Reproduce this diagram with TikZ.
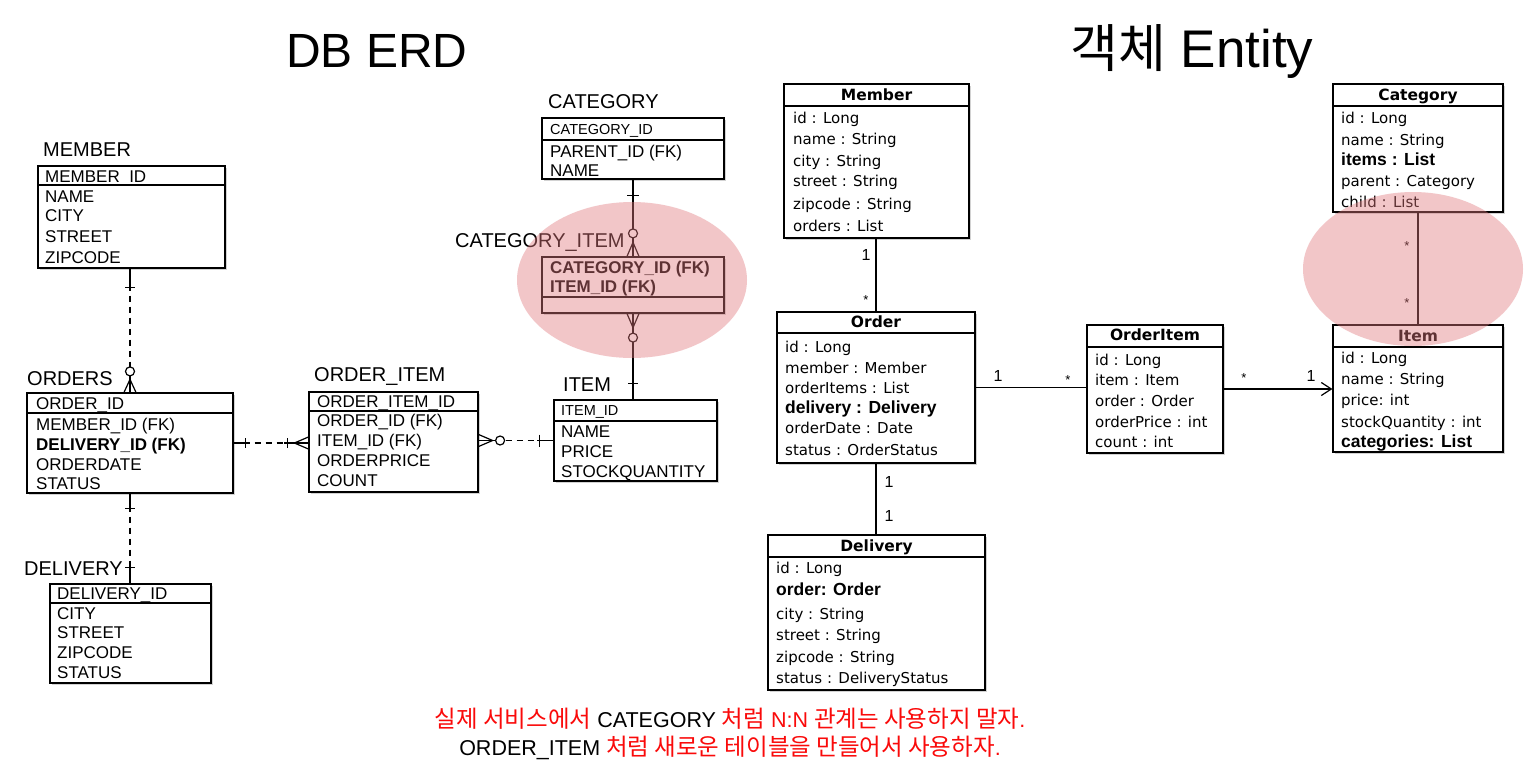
\documentclass[tikz,border=0pt]{standalone}
\usepackage{fontspec}
\setmainfont{Liberation Sans}
\newfontfamily\krfont{Noto Sans CJK KR}
\newfontfamily\dvfont{DejaVu Sans}
\usetikzlibrary{fit,shadows,arrows.meta}

\definecolor{pinkov}{RGB}{226,120,125}
\definecolor{ered}{RGB}{250,10,10}

\newcommand\krnote{\krfont\fontsize{23.5}{26}\selectfont}
\newcommand\krtitle{\krfont\fontsize{52}{58}\selectfont}

\tikzset{
  tbl/.style={draw=black, fill=white, line width=1.2pt, inner sep=0pt,
    drop shadow={shadow xshift=1.5pt, shadow yshift=-2pt, opacity=0.35}},
  sep/.style={line width=1.1pt},
  row/.style={anchor=base west, inner sep=0pt, font=\fontsize{17}{20}\selectfont},
  keyrow/.style={row, font=\fontsize{14.5}{17}\selectfont},
  brow/.style={row, font=\bfseries\fontsize{17}{20}\selectfont},
  tlabel/.style={anchor=base west, inner sep=0pt, font=\fontsize{20}{24}\selectfont},
  erow/.style={anchor=base west, inner sep=0pt, font=\dvfont\fontsize{15}{18}\selectfont},
  ebrow/.style={anchor=base west, inner sep=0pt, font=\bfseries\fontsize{17.5}{20}\selectfont},
  ehead/.style={anchor=base, inner sep=0pt, font=\dvfont\bfseries\fontsize{15.5}{18}\selectfont},
  conn/.style={line width=1.2pt},
  erdash/.style={conn, dash pattern=on 6pt off 5pt},
  ring/.style={conn, fill=white},
  mult/.style={inner sep=0pt, font=\fontsize{16}{18}\selectfont},
  star/.style={inner sep=0pt, font=\fontsize{13}{15}\selectfont},
  blob/.style={fill=pinkov, fill opacity=0.42, draw=none},
  ttl/.style={anchor=base, inner sep=0pt, font=\fontsize{48}{54}\selectfont},
  ttlb/.style={anchor=base, inner sep=0pt, font=\fontsize{53}{58}\selectfont},
  note/.style={anchor=base, inner sep=0pt, font=\fontsize{21.5}{25}\selectfont, text=ered},
}

\begin{document}
\begin{tikzpicture}[x=1pt, y=-1pt]
\path[fill=white, use as bounding box] (0,0) rectangle (1540,774);

% titles
\node[ttl] (t1) at (377,67) {DB ERD};
\node[ttlb] (t2) at (1192,67) {{\krtitle 객체} Entity};

% ===== DB ERD =====
% MEMBER
\node[tlabel] (lmember) at (43,156) {MEMBER};
\node[tbl, fit={(38,166) (225,268)}] (member) {};
\draw[sep] (38,185) -- (225,185);
\node[row] (m1) at (45,182) {MEMBER\_ID};
\node[row] (m2) at (45,202) {NAME};
\node[row] (m3) at (45,221) {CITY};
\node[row] (m4) at (45,242) {STREET};
\node[row] (m5) at (45,263) {ZIPCODE};

% ORDERS
\node[tlabel] (lorders) at (27,385) {ORDERS};
\node[tbl, fit={(27,393) (233,493)}] (orders) {};
\draw[sep] (27,413) -- (233,413);
\node[row] (o1) at (36,409) {ORDER\_ID};
\node[row] (o2) at (36,430) {MEMBER\_ID (FK)};
\node[brow] (o3) at (36,450) {DELIVERY\_ID (FK)};
\node[row] (o4) at (36,470) {ORDERDATE};
\node[row] (o5) at (36,489) {STATUS};

% DELIVERY
\node[tlabel] (ldelivery) at (24,575) {DELIVERY};
\node[tbl, fit={(50,584) (211,683)}] (delivery) {};
\draw[sep] (50,603) -- (211,603);
\node[row] (d1) at (57,599) {DELIVERY\_ID};
\node[row] (d2) at (57,619) {CITY};
\node[row] (d3) at (57,638) {STREET};
\node[row] (d4) at (57,658) {ZIPCODE};
\node[row] (d5) at (57,678) {STATUS};

% ORDER_ITEM
\node[tlabel] (lorderitem) at (314,381) {ORDER\_ITEM};
\node[tbl, fit={(309,392) (478,492)}] (orderitem) {};
\draw[sep] (309,411) -- (478,411);
\node[row] (oi1) at (317,407) {ORDER\_ITEM\_ID};
\node[row] (oi2) at (317,426) {ORDER\_ID (FK)};
\node[row] (oi3) at (317,446) {ITEM\_ID (FK)};
\node[row] (oi4) at (317,466) {ORDERPRICE};
\node[row] (oi5) at (317,486) {COUNT};

% ITEM
\node[tlabel] (litem) at (563,391) {ITEM};
\node[tbl, fit={(554,400) (717,481)}] (item) {};
\draw[sep] (554,421) -- (717,421);
\node[keyrow] (i1) at (561,415) {ITEM\_ID};
\node[row] (i2) at (561,437) {NAME};
\node[row] (i3) at (561,457) {PRICE};
\node[row] (i4) at (561,477) {STOCKQUANTITY};

% CATEGORY
\node[tlabel] (lcategory) at (548,108) {CATEGORY};
\node[tbl, fit={(542,118) (724,179)}] (category) {};
\draw[sep] (542,140) -- (724,140);
\node[keyrow] (c1) at (550,134) {CATEGORY\_ID};
\node[row] (c2) at (550,157) {PARENT\_ID (FK)};
\node[row] (c3) at (550,176) {NAME};

% CATEGORY_ITEM
\node[tlabel] (lcatitem) at (455,247) {CATEGORY\_ITEM};
\node[tbl, fit={(542,257) (724,313)}] (catitem) {};
\draw[sep] (542,297) -- (724,297);
\node[brow] (ci1) at (550,273) {CATEGORY\_ID (FK)};
\node[brow] (ci2) at (550,292) {ITEM\_ID (FK)};

% --- ERD connectors ---
% MEMBER - ORDERS
\draw[conn] (orders.north |- member.south) -- ++(0,22);
\draw[erdash] (orders.north |- member.south) ++(0,27) -- ++(0,72);
\draw[conn] (orders.north |- member.south) ++(-5,19) -- ++(10,0);
\draw[conn] (orders.north) -- ++(0,-16.5);
\draw[conn] (orders.north) ++(-6,0) -- ++(6,-13) -- ++(6,13);
\draw[ring] (orders.north) ++(0,-21) circle[radius=4.5pt];

% ORDERS - DELIVERY
\draw[conn] (orders.south) -- ++(0,18);
\draw[erdash] (orders.south) ++(0,23) -- ++(0,50);
\draw[conn] (orders.south |- delivery.north) -- ++(0,-19);
\draw[conn] (orders.south) ++(-5,15) -- ++(10,0);
\draw[conn] (orders.south |- delivery.north) ++(-5,-16) -- ++(10,0);

% ORDERS - ORDER_ITEM
\draw[conn] (orders.east) -- ++(16,0);
\draw[erdash] (orders.east) ++(21,0) -- ++(33,0);
\draw[conn] (orders.east -| orderitem.west) -- ++(-24,0);
\draw[conn] (orders.east) ++(12,-5) -- ++(0,10);
\draw[conn] (orders.east -| orderitem.west) ++(-21,-5) -- ++(0,10);
\draw[conn] (orders.east -| orderitem.west) ++(0,-6) -- ++(-14,6) -- ++(14,6);

% ORDER_ITEM - ITEM
\draw[conn] (item.west -| orderitem.east) ++(0,-6) -- ++(14,6) -- ++(-14,6);
\draw[conn] (item.west -| orderitem.east) -- ++(17,0);
\draw[ring] (item.west -| orderitem.east) ++(21.5,0) circle[radius=4.5pt];
\draw[erdash] (item.west -| orderitem.east) ++(27,0) -- ++(35,0);
\draw[conn] (item.west) -- ++(-16,0);
\draw[conn] (item.west) ++(-14,-6) -- ++(0,12);

% ITEM - CATEGORY_ITEM
\draw[conn] (catitem.south) ++(-6,0) -- ++(6,14) -- ++(6,-14);
\draw[conn] (catitem.south) -- ++(0,19.5);
\draw[ring] (catitem.south) ++(0,24) circle[radius=4.5pt];
\draw[conn] (catitem.south) ++(0,28.5) -- (catitem.south |- item.north);
\draw[conn] (catitem.south |- item.north) ++(-5,-16) -- ++(10,0);

% CATEGORY - CATEGORY_ITEM
\draw[conn] (category.south) -- ++(0,50.5);
\draw[conn] (category.south) ++(-6,16) -- ++(12,0);
\draw[conn] (catitem.north) -- ++(0,-18.5);
\draw[conn] (catitem.north) ++(-6,0) -- ++(6,-14) -- ++(6,14);
\draw[ring] (catitem.north) ++(0,-23) circle[radius=4.5pt];

% ===== Entities =====
% Member
\node[tbl, fit={(784,84) (969,238)}] (emember) {};
\draw[sep] (784,106) -- (969,106);
\node[ehead] (emh) at (876.5,100) {Member};
\node[erow] (em1) at (793,123) {id : Long};
\node[erow] (em2) at (793,144) {name : String};
\node[erow] (em3) at (793,166) {city : String};
\node[erow] (em4) at (793,186) {street : String};
\node[erow] (em5) at (793,209) {zipcode : String};
\node[erow] (em6) at (793,231) {orders : List};

% Order
\node[tbl, fit={(777,312) (975,463)}] (order) {};
\draw[sep] (777,333) -- (975,333);
\node[ehead] (eoh) at (876,327) {Order};
\node[erow] (eo1) at (785,352) {id : Long};
\node[erow] (eo2) at (785,373) {member : Member};
\node[erow] (eo3) at (785,393) {orderItems : List};
\node[ebrow] (eo4) at (785,413) {delivery : Delivery};
\node[erow] (eo5) at (785,433) {orderDate : Date};
\node[erow] (eo6) at (785,455) {status : OrderStatus};

% OrderItem
\node[tbl, fit={(1087,325) (1223,453)}] (eoitem) {};
\draw[sep] (1087,347) -- (1223,347);
\node[ehead] (eoih) at (1155,340) {OrderItem};
\node[erow] (eoi1) at (1095,365) {id : Long};
\node[erow] (eoi2) at (1095,385) {item : Item};
\node[erow] (eoi3) at (1095,406) {order : Order};
\node[erow] (eoi4) at (1095,427) {orderPrice : int};
\node[erow] (eoi5) at (1095,447) {count : int};

% Delivery
\node[tbl, fit={(768,535) (985,690)}] (edelivery) {};
\draw[sep] (768,557) -- (985,557);
\node[ehead] (edh) at (876.5,551) {Delivery};
\node[erow] (ed1) at (776,573) {id : Long};
\node[ebrow] (ed2) at (776,595) {order: Order};
\node[erow] (ed3) at (776,619) {city : String};
\node[erow] (ed4) at (776,640) {street : String};
\node[erow] (ed5) at (776,662) {zipcode : String};
\node[erow] (ed6) at (776,683) {status : DeliveryStatus};

% Category
\node[tbl, fit={(1333,84) (1503,212)}] (ecategory) {};
\draw[sep] (1333,106) -- (1503,106);
\node[ehead] (ech) at (1418,100) {Category};
\node[erow] (ec1) at (1341,123) {id : Long};
\node[erow] (ec2) at (1341,145) {name : String};
\node[ebrow] (ec3) at (1341,165) {items : List};
\node[erow] (ec4) at (1341,186) {parent : Category};
\node[erow] (ec5) at (1341,207) {child : List};

% Item
\node[tbl, fit={(1333,325) (1503,452)}] (eitem) {};
\draw[sep] (1333,347) -- (1503,347);
\node[ehead] (eih) at (1418,341) {Item};
\node[erow] (ei1) at (1341,363) {id : Long};
\node[erow] (ei2) at (1341,384) {name : String};
\node[erow] (ei3) at (1341,405) {price: int};
\node[erow] (ei4) at (1341,427) {stockQuantity : int};
\node[ebrow] (ei5) at (1341,447) {categories: List};

% --- entity connectors ---
\draw[conn] (order.north |- emember.south) -- (order.north);
\node[mult] (n1) at (866,255) {1};
\node[star] (n2) at (866,300) {*};

\draw[conn] (order.east) -- (order.east -| eoitem.west);
\node[mult] (n3) at (998,376) {1};
\node[star] (n4) at (1068,380) {*};

\draw[conn, -{Straight Barb[length=10pt,width=13pt]}] (eoitem.east) -- (eoitem.east -| eitem.west);
\node[star] (n5) at (1244,378) {*};
\node[mult] (n6) at (1311,376) {1};

\draw[conn] (order.south) -- (order.south |- edelivery.north);
\node[mult] (n7) at (889,482) {1};
\node[mult] (n8) at (889,516) {1};

\draw[conn] (ecategory.south) -- (eitem.north);
\node[star] (n9) at (1407,246) {*};
\node[star] (n10) at (1407,303) {*};

% highlight blobs
\fill[blob] (632,280) ellipse [x radius=115pt, y radius=78pt];
\fill[blob] (1413,269) ellipse [x radius=110pt, y radius=77pt];

% notes
\node[note] (note1) at (730,727) {{\krnote 실제 서비스에서} {\color{black}CATEGORY} {\krnote 처럼} N:N {\krnote 관계는 사용하지 말자}.};
\node[note] (note2) at (730,755) {{\color{black}ORDER\_ITEM} {\krnote 처럼 새로운 테이블을 만들어서 사용하자}.};
\end{tikzpicture}
\end{document}
